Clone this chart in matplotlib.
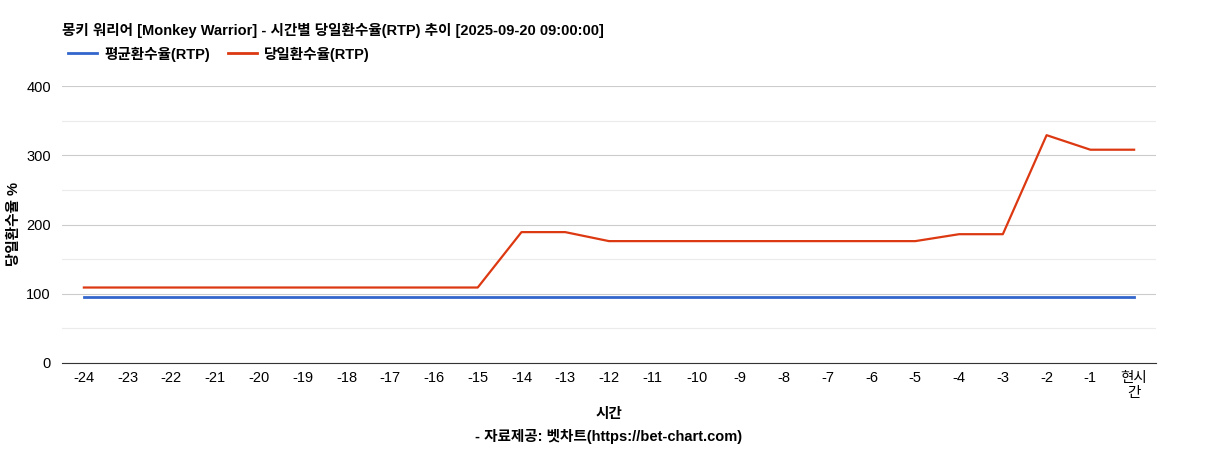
import matplotlib
matplotlib.use("Agg")
import matplotlib.pyplot as plt
from matplotlib.lines import Line2D

plt.rcParams['font.family'] = ['Liberation Sans', 'Noto Sans CJK KR', 'DejaVu Sans']

# data
hours = ["-24", "-23", "-22", "-21", "-20", "-19", "-18", "-17", "-16", "-15",
         "-14", "-13", "-12", "-11", "-10", "-9", "-8", "-7", "-6", "-5",
         "-4", "-3", "-2", "-1", "현시\n간"]
avg_rtp = [96] * 25
daily_rtp = [109, 109, 109, 109, 109, 109, 109, 109, 109, 109,
             189, 189, 176, 176, 176, 176, 176, 176, 176, 176,
             186, 186, 329, 308, 308]

fig = plt.figure(figsize=(12.17, 4.5), dpi=100)
ax = fig.add_axes([62/1217, 1-363/450, (1156-62)/1217, (363-86)/450])

x = range(len(hours))
ax.plot(x, avg_rtp, color="#3366cc", lw=2)
ax.plot(x, daily_rtp, color="#dc3912", lw=1.6)

ax.set_xlim(-0.5, len(hours) - 0.5)
ax.set_ylim(0, 400)
ax.set_yticks([0, 100, 200, 300, 400])
ax.set_yticks([50, 150, 250, 350], minor=True)
ax.grid(axis="y", which="major", color="#cccccc", lw=0.8)
ax.grid(axis="y", which="minor", color="#ebebeb", lw=0.8)
ax.set_axisbelow(True)
ax.set_xticks(list(x))
ax.set_xticklabels(hours, fontsize=10.5, linespacing=1.1)
ax.tick_params(axis="y", which="both", labelsize=10.5, length=0, pad=8)
ax.tick_params(axis="x", length=0, pad=6)
for s in ["top", "right", "left"]:
    ax.spines[s].set_visible(False)
ax.spines["bottom"].set_color("#333333")

fig.text(14/1217, 1-224/450, "당일환수율 %", rotation=90, ha="center", va="center",
         fontsize=10.5, fontweight="bold")
fig.text(609/1217, 1-414/450, "시간", ha="center", va="center", fontsize=10.5, fontweight="bold")
fig.text(609/1217, 1-437/450, "- 자료제공: 벳차트(https://bet-chart.com)", ha="center", va="center",
         fontsize=10.5, fontweight="bold")

fig.text(62/1217, 1-30/450, "몽키 워리어 [Monkey Warrior] - 시간별 당일환수율(RTP) 추이 [2025-09-20 09:00:00]",
         ha="left", va="center", fontsize=10.5, fontweight="bold")

handles = [Line2D([], [], color="#3366cc", lw=2), Line2D([], [], color="#dc3912", lw=2)]
fig.legend(handles, ["평균환수율(RTP)", "당일환수율(RTP)"], loc="center left",
           bbox_to_anchor=(55/1217, 1-54/450), ncol=2, frameon=False,
           prop={"weight": "bold", "size": 10.5}, handlelength=2, columnspacing=1.2, handletextpad=0.5)

fig.savefig("out.png", dpi=100)
